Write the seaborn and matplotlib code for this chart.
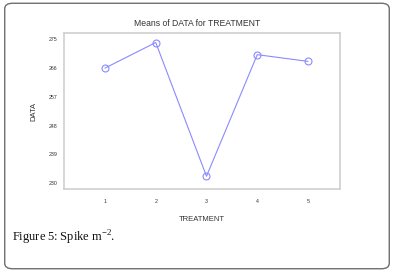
import numpy as np
import pandas as pd
import seaborn as sns
import matplotlib.pyplot as plt
from matplotlib.patches import FancyBboxPatch

# data
treatment = [1, 2, 3, 4, 5]
means = [266.0, 274.0, 232.2, 270.2, 268.1]
yticks = [230, 239, 248, 257, 266, 275]

df = pd.DataFrame({"TREATMENT": treatment, "DATA": means})

sns.set_style("white")
plt.rcParams["font.family"] = ["Liberation Sans", "DejaVu Sans"]
plt.rcParams["mathtext.fontset"] = "custom"
plt.rcParams["mathtext.rm"] = "Liberation Serif"
fig = plt.figure(figsize=(3.94, 2.72), dpi=100)

# outer figure frame with rounded corners
frame = FancyBboxPatch((0.012, 0.012), 0.976, 0.976,
                       boxstyle="round,pad=0,rounding_size=0.02",
                       transform=fig.transFigure, fill=False,
                       edgecolor="#6e6e6e", linewidth=1.0)
fig.patches.append(frame)

ax = fig.add_axes([0.162, 0.305, 0.701, 0.574])
sns.lineplot(data=df, x="TREATMENT", y="DATA", ax=ax,
             color="#8a8aff", linewidth=0.8, marker="o", markersize=5,
             markerfacecolor="none", markeredgecolor="#8a8aff",
             markeredgewidth=0.8)

ax.set_xlim(0.19, 5.63)
ax.set_ylim(228.2, 277.0)
ax.set_xticks(treatment)
ax.set_yticks(yticks)
ax.tick_params(axis="both", labelsize=3.8, length=1.5, width=0.5,
               colors="#333333", pad=3)
ax.tick_params(axis="x", pad=6)
for s in ax.spines.values():
    s.set_color("#cfcfcf")
    s.set_linewidth(1.2)

ax.set_xlabel("TREATMENT", fontsize=5.5, color="#333333", labelpad=8)
ax.set_ylabel("DATA", fontsize=5.5, color="#333333", labelpad=8)
fig.text(0.5, 0.915, "Means of DATA for TREATMENT", ha="center", va="center",
         fontsize=6.2, color="#333333")

fig.text(0.03, 0.125, r"Figure 5: Spike m$^{\mathrm{-2}}$.", ha="left", va="center",
         fontsize=9, family="Liberation Serif", color="#111111")

fig.savefig("out.png", dpi=100)
